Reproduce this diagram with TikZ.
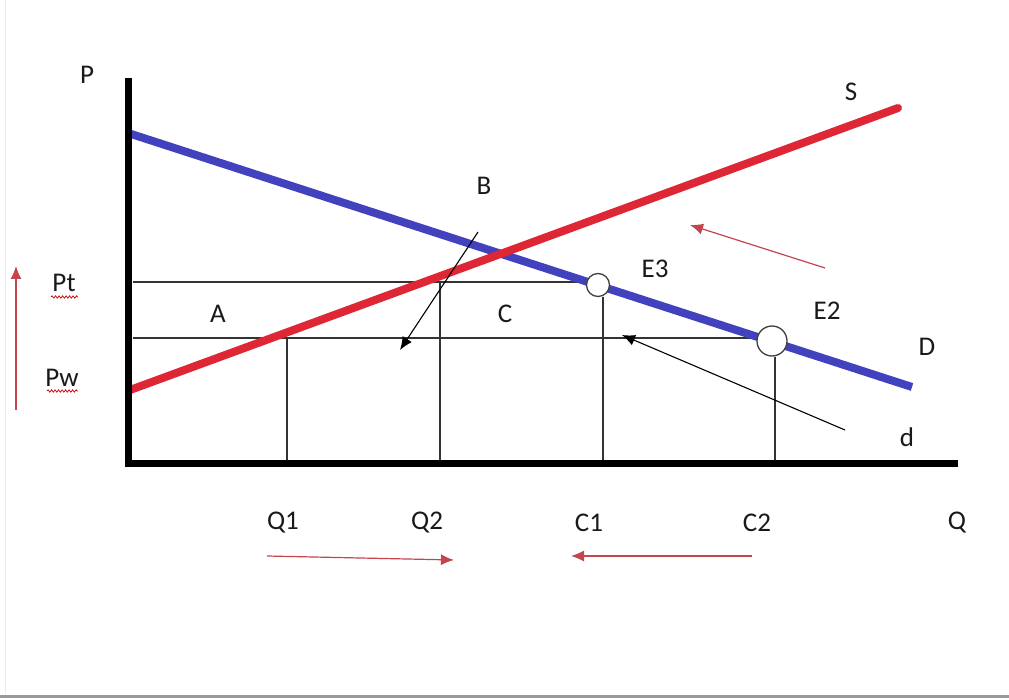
\documentclass[tikz,border=0pt]{standalone}
\usepackage{fontspec}
\setmainfont{Carlito}
\usetikzlibrary{arrows.meta,decorations.pathmorphing}
\definecolor{dblue}{RGB}{66,66,190}
\definecolor{sred}{RGB}{222,38,52}
\definecolor{ared}{RGB}{196,70,76}
\tikzset{
  lbl/.style={font=\fontsize{27}{30}\selectfont, text=black!90, inner sep=0pt},
  axis/.style={line width=7pt, black},
  guide/.style={line width=1.2pt, black!80},
  pointer/.style={line width=1.1pt, black, -{Latex[length=13pt,width=11pt]}},
  move/.style={line width=1.2pt, ared, -{Latex[length=13pt,width=11pt]}},
  eq/.style={circle, draw=black!75, line width=1.3pt, fill=white, inner sep=0pt},
  squig/.style={red!80!black, line width=0.7pt, decorate, decoration={snake, amplitude=1.2pt, segment length=3.5pt}}
}
\begin{document}
\begin{tikzpicture}[x=1pt,y=-1pt]
\useasboundingbox (0,0) rectangle (1009,700);
\fill[white] (0,0) rectangle (1009,700);
\draw[black!40, line width=3pt] (0,696) -- (1009,696);
\draw[black!8, line width=1pt] (5,0) -- (5,694);

% coordinates
\coordinate (yTop) at (128,78);
\coordinate (orig) at (128,463);
\coordinate (xEnd) at (958,463);
\coordinate (dStart) at (128,133);
\coordinate (dEnd) at (912,387);
\coordinate (sStart) at (130,390);
\coordinate (sEnd) at (898,108);
\coordinate (ptL) at (133,282);
\coordinate (pwL) at (133,338);
\coordinate (q1top) at (287,338);
\coordinate (q1bot) at (287,463);
\coordinate (q2top) at (440,282);
\coordinate (q2bot) at (440,463);
\coordinate (c1bot) at (603,463);
\coordinate (c2bot) at (775,463);

% guides
\draw[guide] (ptL) -- (598,282);
\draw[guide] (pwL) -- (760,338);
\draw[guide] (q1top) -- (q1bot);
\draw[guide] (q2top) -- (q2bot);

% curves
\draw[dblue, line width=8pt] (dStart) -- (dEnd);
\draw[sred, line width=8pt, line cap=round] (sStart) -- (sEnd);

% equilibrium circles
\node[eq, minimum size=23pt] (E3c) at (598,285) {};
\node[eq, minimum size=30pt] (E2c) at (772,341) {};
\draw[guide] (E3c.south) ++(5,0) coordinate (c1top) -- (c1bot);
\draw[guide] (E2c.south) ++(3,0) coordinate (c2top) -- (c2bot);

% axes
\draw[axis] (yTop) -- (128,466);
\draw[axis] (125,463) -- (xEnd);

% black pointers
\coordinate (bStart) at (478,232);
\coordinate (bEnd) at (400,350);
\draw[pointer] (bStart) -- (bEnd);
\coordinate (dPtrStart) at (845,430);
\coordinate (dPtrEnd) at (622,335);
\draw[pointer] (dPtrStart) -- (dPtrEnd);

% red movement arrows
\coordinate (rs1) at (825,268); \coordinate (re1) at (690,225);
\draw[move] (rs1) -- (re1);
\coordinate (rs2) at (267,556); \coordinate (re2) at (454,560);
\draw[move] (rs2) -- (re2);
\coordinate (rs3) at (752,556); \coordinate (re3) at (571,556);
\draw[move] (rs3) -- (re3);
\coordinate (rs4) at (16,410); \coordinate (re4) at (16,266);
\draw[move] (rs4) -- (re4);

% labels
\node[lbl] (P) at (87,75) {P};
\node[lbl] (S) at (851,92) {S};
\node[lbl] (B) at (484,186) {B};
\node[lbl] (E3) at (655,269) {E3};
\node[lbl] (E2) at (827,311) {E2};
\node[lbl] (D) at (927,347) {D};
\node[lbl] (d) at (907,437) {d};
\node[lbl] (A) at (218,314) {A};
\node[lbl] (C) at (505,314) {C};
\node[lbl] (Pt) at (64,283) {Pt};
\node[lbl] (Pw) at (62,378) {Pw};
\draw[squig] (51,297) -- (78,297);
\draw[squig] (47,391) -- (78,391);
\node[lbl] (Q1) at (283,523) {Q1};
\node[lbl] (Q2) at (427,523) {Q2};
\node[lbl] (C1) at (589,523) {C1};
\node[lbl] (C2) at (757,523) {C2};
\node[lbl] (Q) at (957,523) {Q};
\end{tikzpicture}
\end{document}
